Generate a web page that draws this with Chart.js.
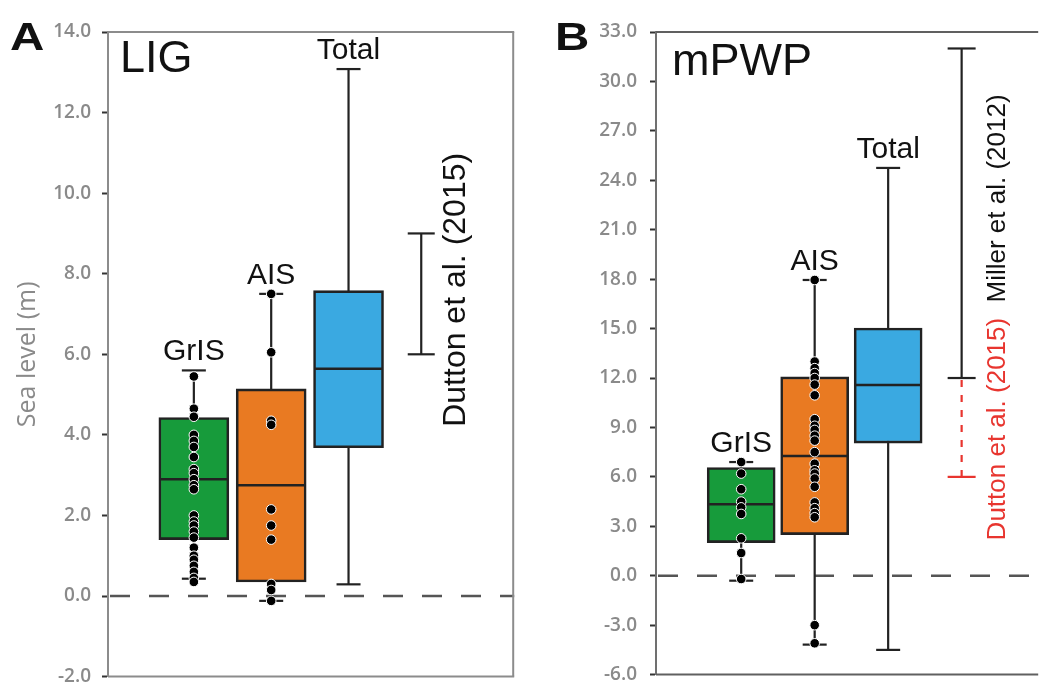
<!DOCTYPE html>
<html>
<head>
<meta charset="utf-8">
<script src="https://cdn.jsdelivr.net/npm/chart.js@4/dist/chart.umd.min.js"></script>
<style>
  html, body { margin: 0; padding: 0; background: #fff; }
  #wrap { position: relative; width: 1044px; height: 699px; overflow: hidden; background: #fff; }
  canvas { position: absolute; top: 0; }
  #cA { left: 0; }
  #cB { left: 520px; }
</style>
</head>
<body>
<div id="wrap">
  <canvas id="cA" width="520" height="699"></canvas>
  <canvas id="cB" width="524" height="699"></canvas>
</div>
<script>
// ---------------- DATA ----------------
const boxLabels = ['GrIS', 'AIS', 'Total'];

// Panel A: LIG (sea level, m)
const ligWhiskerLow  = [0.43, -0.12, 0.29];
const ligQ1          = [1.40, 0.35, 3.68];
const ligMedian      = [2.90, 2.75, 5.64];
const ligQ3          = [4.43, 5.14, 7.58];
const ligWhiskerHigh = [5.60, 7.50, 13.08];
const ligGrisPoints  = [5.45, 4.65, 4.45, 4.0, 3.85, 3.7, 3.45, 3.15, 3.05, 2.9, 2.75, 2.65,
                        2.0, 1.85, 1.75, 1.6, 1.45, 1.2, 1.0, 0.9, 0.75, 0.6, 0.45, 0.35];
const ligAisPoints   = [7.5, 6.05, 4.35, 4.25, 2.15, 1.75, 1.4, 0.3, 0.15, -0.12];
const ligRefLabels   = ['Dutton et al. (2015)'];
const ligRefLow      = [6.0];
const ligRefHigh     = [9.0];
const ligTickValues  = [-2, 0, 2, 4, 6, 8, 10, 12, 14];

// Panel B: mPWP (sea level, m)
const mpwpWhiskerLow  = [-0.30, -4.18, -4.50];
const mpwpQ1          = [2.01, 2.50, 8.05];
const mpwpMedian      = [4.34, 7.26, 11.58];
const mpwpQ3          = [6.57, 12.07, 15.03];
const mpwpWhiskerHigh = [6.90, 17.95, 24.75];
const mpwpGrisPoints  = [6.9, 6.2, 5.25, 4.5, 4.15, 3.75, 2.27, 1.38, -0.2];
const mpwpAisPoints   = [17.95, 13.0, 12.6, 12.3, 12.0, 11.6, 10.95, 9.5, 9.1, 8.85, 8.5, 8.2,
                         7.5, 6.8, 6.4, 6.2, 5.9, 5.4, 4.45, 4.1, 3.8, 3.55, -3.0, -4.1];
const mpwpRefLabels   = ['Miller et al. (2012)', 'Dutton et al. (2015)'];
const mpwpRefLow      = [12.0, 6.0];
const mpwpRefHigh     = [32.0, 12.0];
const mpwpTickValues  = [-6, -3, 0, 3, 6, 9, 12, 15, 18, 21, 24, 27, 30, 33];

// ---------------- STYLE / LAYOUT ----------------
const FONT = "'Liberation Sans', Arial, sans-serif";
const TICKFONT = "'Open Sans', sans-serif";
const boxFill = ['#179b3b', '#e97a22', '#3aa9e1'];
const DARK = '#222';
const RED = '#e8352f';

const panelA = {
  canvas: 'cA', letter: 'A', title: 'LIG',
  low: ligWhiskerLow, q1: ligQ1, med: ligMedian, q3: ligQ3, high: ligWhiskerHigh,
  points: [ligGrisPoints, ligAisPoints],
  refLabels: ligRefLabels, refLow: ligRefLow, refHigh: ligRefHigh,
  tickValues: ligTickValues,
  axisWidth: 108, pad: { left: 0, top: 32, right: 5, bottom: 7 },
  xMin: -0.11, xMax: 5.142, boxX: [1, 2, 3], refX: [3.94],
  boxWidth: 70, capWidth: 24, refCap: 27,
  refColors: [DARK], refDash: [[]], refCaps: ['both'],
  refTextY: [7.6], refTextDx: 35, refFont: 32,
  axisColor: '#8c8c8c', frameColor: '#8c8c8c', frameRight: true,
  tickPadding: 11, yTitle: 'Sea level (m)',
  titleDx: 12, titleDy: 40, letterX: 10, letterY: 50
};
const panelB = {
  canvas: 'cB', letter: 'B', title: 'mPWP',
  low: mpwpWhiskerLow, q1: mpwpQ1, med: mpwpMedian, q3: mpwpQ3, high: mpwpWhiskerHigh,
  points: [mpwpGrisPoints, mpwpAisPoints],
  refLabels: mpwpRefLabels, refLow: mpwpRefLow, refHigh: mpwpRefHigh,
  tickValues: mpwpTickValues,
  axisWidth: 136, pad: { left: 0, top: 32, right: 0, bottom: 7 },
  xMin: -0.1595, xMax: 5.042, boxX: [1, 2, 3], refX: [4, 4],
  boxWidth: 68, capWidth: 24, refCap: 28,
  refColors: [DARK, RED], refDash: [[], [7, 8]], refCaps: ['both', 'low'],
  refTextY: [22.9, 8.9], refTextDx: 36, refFont: 26,
  axisColor: '#707070', frameColor: '#606060', frameRight: false,
  tickPadding: 13, yTitle: null,
  titleDx: 16, titleDy: 43, letterX: 35, letterY: 50
};

function seg(ctx, x1, y1, x2, y2) {
  ctx.beginPath(); ctx.moveTo(x1, y1); ctx.lineTo(x2, y2); ctx.stroke();
}

function extrasPlugin(p) {
  return {
    id: 'boxExtras',
    beforeDatasetsDraw(chart) {
      const { ctx, chartArea: a, scales: { x, y } } = chart;
      ctx.save();
      // zero line
      const y0 = y.getPixelForValue(0);
      ctx.strokeStyle = '#555'; ctx.lineWidth = 2.5; ctx.setLineDash([20, 19]);
      seg(ctx, a.left + 2, y0, a.right, y0);
      ctx.setLineDash([]);
      // whiskers + caps
      ctx.strokeStyle = DARK; ctx.lineWidth = 2.2;
      p.low.forEach((lo, i) => {
        const cx = x.getPixelForValue(p.boxX[i]);
        const yl = y.getPixelForValue(lo), yh = y.getPixelForValue(p.high[i]);
        const h = p.capWidth / 2;
        seg(ctx, cx, yl, cx, yh);
        seg(ctx, cx - h, yl, cx + h, yl);
        seg(ctx, cx - h, yh, cx + h, yh);
      });
      // reference ranges
      p.refLow.forEach((lo, i) => {
        const cx = x.getPixelForValue(p.refX[i]);
        const yl = y.getPixelForValue(lo), yh = y.getPixelForValue(p.refHigh[i]);
        const h = p.refCap / 2;
        ctx.strokeStyle = p.refColors[i]; ctx.lineWidth = 2.2;
        ctx.setLineDash(p.refDash[i]);
        seg(ctx, cx, yl, cx, yh);
        ctx.setLineDash([]);
        seg(ctx, cx - h, yl, cx + h, yl);
        if (p.refCaps[i] === 'both') seg(ctx, cx - h, yh, cx + h, yh);
      });
      ctx.restore();
    },
    afterDatasetDraw(chart, args) {
      if (args.index !== 0) return;
      const { ctx, scales: { x, y } } = chart;
      ctx.save();
      ctx.strokeStyle = DARK; ctx.lineWidth = 2.5;
      p.med.forEach((m, i) => {
        const cx = x.getPixelForValue(p.boxX[i]);
        const ym = y.getPixelForValue(m);
        seg(ctx, cx - p.boxWidth / 2 + 1, ym, cx + p.boxWidth / 2 - 1, ym);
      });
      ctx.restore();
    },
    afterDraw(chart) {
      const { ctx, chartArea: a, scales: { x, y } } = chart;
      ctx.save();
      // frame
      ctx.strokeStyle = p.frameColor; ctx.lineWidth = 2;
      seg(ctx, a.left, a.top, a.right, a.top);
      seg(ctx, a.left, a.bottom, a.right, a.bottom);
      if (p.frameRight) seg(ctx, a.right - 1, a.top, a.right - 1, a.bottom);
      // panel letter
      ctx.fillStyle = '#111';
      ctx.font = 'bold 38px ' + FONT;
      ctx.textAlign = 'left'; ctx.textBaseline = 'alphabetic';
      ctx.save(); ctx.translate(p.letterX, p.letterY); ctx.scale(1.25, 1);
      ctx.fillText(p.letter, 0, 0); ctx.restore();
      // panel title
      ctx.font = '45px ' + FONT;
      ctx.fillText(p.title, a.left + p.titleDx, a.top + p.titleDy);
      // box labels
      ctx.font = '30px ' + FONT; ctx.textAlign = 'center';
      boxLabels.forEach((lab, i) => {
        const cx = x.getPixelForValue(p.boxX[i]);
        const yh = y.getPixelForValue(p.high[i]);
        ctx.fillText(lab, cx, yh - 10);
      });
      // reference labels (rotated)
      ctx.font = p.refFont + 'px ' + FONT; ctx.textBaseline = 'middle';
      p.refLabels.forEach((lab, i) => {
        const cx = x.getPixelForValue(p.refX[i]) + p.refTextDx;
        const cy = y.getPixelForValue(p.refTextY[i]);
        ctx.save(); ctx.translate(cx, cy); ctx.rotate(-Math.PI / 2);
        ctx.fillStyle = p.refColors[i] === RED ? RED : '#111';
        ctx.fillText(lab, 0, 0);
        ctx.restore();
      });
      ctx.restore();
    }
  };
}

function makePanel(p) {
  const pointSets = p.points.map((vals, i) => ({
    type: 'scatter',
    data: vals.map(v => ({ x: p.boxX[i], y: v })),
    pointRadius: 4.8, pointHoverRadius: 4.8,
    backgroundColor: '#000', borderColor: '#fff', borderWidth: 1,
    showLine: false, order: 1
  }));
  new Chart(document.getElementById(p.canvas), {
    type: 'bar',
    data: {
      datasets: [{
        label: 'IQR',
        data: boxLabels.map((lab, i) => ({ x: p.boxX[i], y: [p.q1[i], p.q3[i]] })),
        backgroundColor: boxFill,
        borderColor: DARK, borderWidth: 2.6, borderSkipped: false,
        barThickness: p.boxWidth, order: 2
      }, ...pointSets]
    },
    options: {
      responsive: false, animation: false, devicePixelRatio: 1,
      layout: { padding: p.pad },
      plugins: { legend: { display: false }, tooltip: { enabled: false } },
      scales: {
        x: { type: 'linear', display: false, min: p.xMin, max: p.xMax, offset: false },
        y: {
          type: 'linear', min: p.tickValues[0], max: p.tickValues[p.tickValues.length - 1],
          afterBuildTicks: s => { s.ticks = p.tickValues.map(v => ({ value: v })); },
          afterFit: s => { s.width = p.axisWidth; },
          ticks: {
            callback: v => Number(v).toFixed(1),
            color: '#8a8a8a', padding: p.tickPadding,
            font: { family: TICKFONT, size: 19, weight: '600' }
          },
          grid: { display: true, drawOnChartArea: false, drawTicks: true, tickLength: 6,
                  tickColor: '#333', tickWidth: 2, color: '#333' },
          border: { display: true, color: p.axisColor, width: 2 },
          title: p.yTitle ? { display: true, text: p.yTitle, color: '#8a8a8a',
                   font: { family: TICKFONT, size: 25 }, padding: { top: 13, bottom: 0 } }
                 : { display: false }
        }
      }
    },
    plugins: [extrasPlugin(p)]
  });
}

makePanel(panelA);
makePanel(panelB);
</script>
</body>
</html>
